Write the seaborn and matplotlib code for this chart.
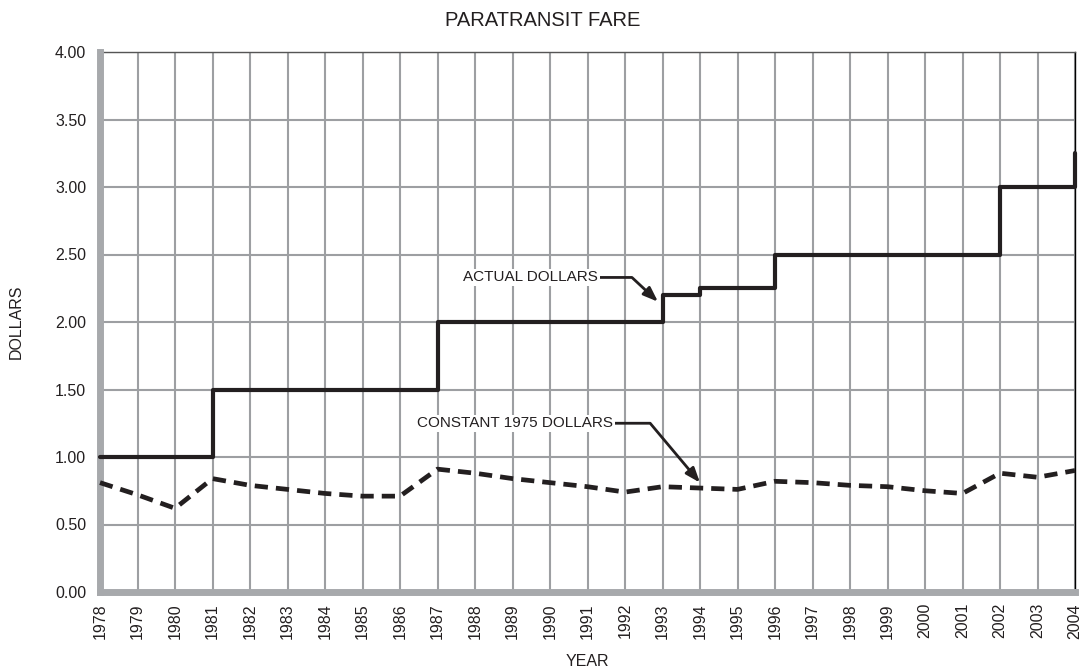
import matplotlib
matplotlib.use('Agg')
import matplotlib.pyplot as plt
import seaborn as sns

# Tarifa de paratransito: valores
years = list(range(1978, 2005))
constant_1975 = [0.81, 0.72, 0.62, 0.84, 0.79, 0.76, 0.73, 0.71, 0.71,
                 0.91, 0.88, 0.84, 0.81, 0.78, 0.74, 0.78, 0.77, 0.76,
                 0.82, 0.81, 0.79, 0.78, 0.75, 0.73, 0.88, 0.85, 0.90]
fare_years = [1978, 1981, 1987, 1993, 1994, 1996, 2002, 2004]
actual_fare = [1.00, 1.50, 2.00, 2.20, 2.25, 2.50, 3.00, 3.25]
y_ticks = [0.0, 0.5, 1.0, 1.5, 2.0, 2.5, 3.0, 3.5, 4.0]

sns.set_style('white')
plt.rcParams['font.family'] = ['Liberation Sans', 'DejaVu Sans']

ink = '#231f20'
grid_c = '#9d9fa2'
spine_c = '#a7a9ac'

fig = plt.figure(figsize=(10.85, 6.71), dpi=100)
ax = fig.add_axes([100 / 1085, 79 / 671, 975 / 1085, 540 / 671])

sns.lineplot(x=fare_years, y=actual_fare, drawstyle='steps-post', color=ink,
             lw=3.0, ax=ax, zorder=5)
sns.lineplot(x=years, y=constant_1975, color=ink, lw=3.4,
             linestyle=(0, (2.8, 1.7)), dash_capstyle='butt', ax=ax, zorder=5)
# el tramo vertical de 2004 queda sobre el borde derecho
for line in ax.lines:
    line.set_clip_on(False)

ax.set_xlim(1978, 2004)
ax.set_ylim(0, 4)
ax.set_xticks(years)
ax.set_xticklabels([str(y) for y in years], rotation=90, fontsize=11.5, color=ink)
ax.set_yticks(y_ticks)
ax.set_yticklabels([f'{v:.2f}' for v in y_ticks], fontsize=11.5, color=ink)
ax.tick_params(length=0)
ax.tick_params(axis='y', pad=10)
ax.tick_params(axis='x', pad=8)

ax.grid(True, color=grid_c, lw=1.5)
ax.set_axisbelow(True)

for side in ['left', 'bottom']:
    ax.spines[side].set_color(spine_c)
    ax.spines[side].set_linewidth(5)
    ax.spines[side].set_capstyle('projecting')
    ax.spines[side].set_zorder(4)
ax.spines['top'].set_color('#555555')
ax.spines['top'].set_linewidth(1)
ax.spines['right'].set_color('black')
ax.spines['right'].set_linewidth(1)

ax.set_xlabel('YEAR', fontsize=11.5, color=ink, va='center')
ax.set_ylabel('DOLLARS', fontsize=11.5, color=ink, va='center')
ax.xaxis.set_label_coords(0.5, -(662 - 592) / 540)
ax.yaxis.set_label_coords(-(100 - 16) / 975, 0.5)
fig.text(0.5, 1 - 20 / 671, 'PARATRANSIT FARE', ha='center', va='center',
         fontsize=14.5, color=ink)

box = dict(boxstyle='square,pad=0.1', fc='white', ec='none')
ax.annotate('ACTUAL DOLLARS', xy=(1992.88, 2.15), xytext=(1991.28, 2.33),
            ha='right', va='center', fontsize=11, color=ink, bbox=box,
            arrowprops=dict(arrowstyle='-|>,head_length=0.8,head_width=0.3',
                            color=ink, lw=2,
                            connectionstyle='angle,angleA=0,angleB=137,rad=0',
                            shrinkA=0, shrinkB=0))
ax.annotate('CONSTANT 1975 DOLLARS', xy=(1994.0, 0.81), xytext=(1991.68, 1.25),
            ha='right', va='center', fontsize=11, color=ink, bbox=box,
            arrowprops=dict(arrowstyle='-|>,head_length=0.8,head_width=0.3',
                            color=ink, lw=2,
                            connectionstyle='angle,angleA=0,angleB=130,rad=0',
                            shrinkA=0, shrinkB=0))

fig.savefig('out.png', dpi=100)
